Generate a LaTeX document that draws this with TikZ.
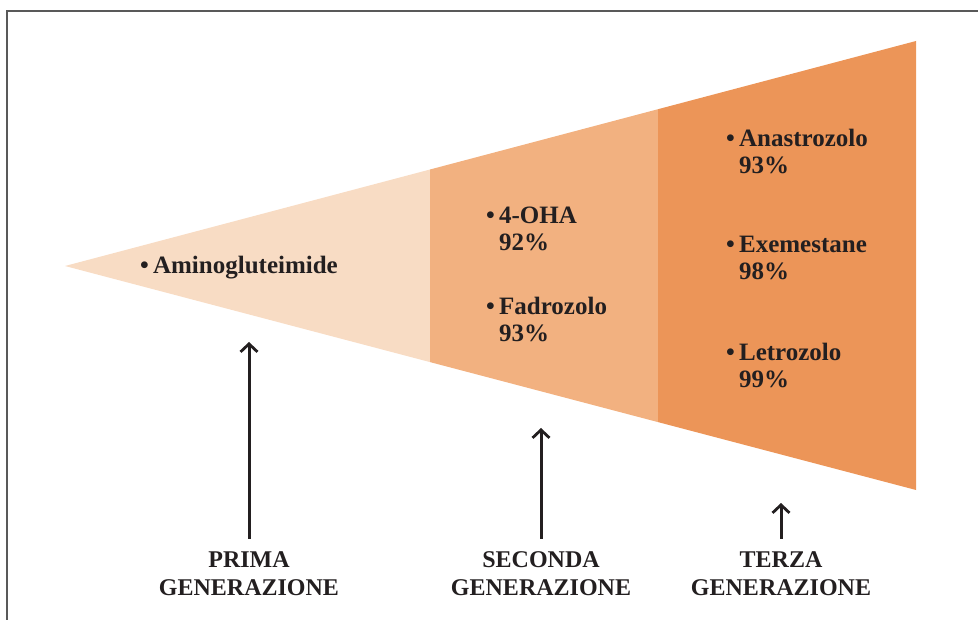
\documentclass[tikz,border=0pt]{standalone}
\usepackage{fontspec}
\setmainfont{Liberation Serif}
\usetikzlibrary{arrows.meta}

\definecolor{chiaro}{RGB}{248,220,196}
\definecolor{medio}{RGB}{242,177,128}
\definecolor{scuro}{RGB}{236,149,88}
\definecolor{testo}{RGB}{35,31,32}

\newcommand{\voce}[2]{\textbullet\,#1\\\hphantom{\textbullet\,}#2}

\tikzset{
  farmaco/.style={anchor=west,align=left,text=testo,inner sep=0pt,
    font=\fontsize{25}{27}\selectfont\bfseries},
  generazione/.style={align=center,text=testo,inner sep=0pt,
    font=\fontsize{24}{28}\selectfont\bfseries},
  freccia/.style={-{Straight Barb[length=8pt,width=17pt,line width=2.8pt]},
    line width=3pt,testo,shorten <=13pt}
}

\begin{document}
\begin{tikzpicture}[x=1pt,y=-1pt]
    \useasboundingbox (0,0) rectangle (978,620);

    % Cornice
    \draw[line width=2.2pt,black!65] (7,620) -- (7,11) -- (978,11);

    % Imbuto: prima, seconda e terza generazione
    \fill[chiaro] (65,266) -- (430,169.5) -- (430,362.1) -- cycle;
    \fill[medio] (430,169.5) -- (658,109.2) -- (658,422.1) -- (430,362.1) -- cycle;
    \fill[scuro] (658,109.2) -- (916,41) -- (916,490) -- (658,422.1) -- cycle;

    % Farmaci
    \node[farmaco] (amino) at (140,268) {\textbullet\,Aminogluteimide};
    \node[farmaco] (oha) at (486,229) {\voce{4-OHA}{92\%}};
    \node[farmaco] (fadro) at (486,319) {\voce{Fadrozolo}{93\%}};
    \node[farmaco] (anastro) at (726,151) {\voce{Anastrozolo}{93\%}};
    \node[farmaco] (exeme) at (726,258) {\voce{Exemestane}{98\%}};
    \node[farmaco] (letro) at (726,365) {\voce{Letrozolo}{99\%}};

    % Etichette delle generazioni
    \node[generazione] (prima) at (249,574) {PRIMA\\GENERAZIONE};
    \node[generazione] (seconda) at (541,574) {SECONDA\\GENERAZIONE};
    \node[generazione] (terza) at (781,574) {TERZA\\GENERAZIONE};

    % Frecce
    \coordinate (puntaA) at (249,342);
    \coordinate (puntaB) at (541,428);
    \coordinate (puntaC) at (781,503);
    \draw[freccia] (prima) -- (puntaA);
    \draw[freccia] (seconda) -- (puntaB);
    \draw[freccia] (terza) -- (puntaC);
\end{tikzpicture}
\end{document}
